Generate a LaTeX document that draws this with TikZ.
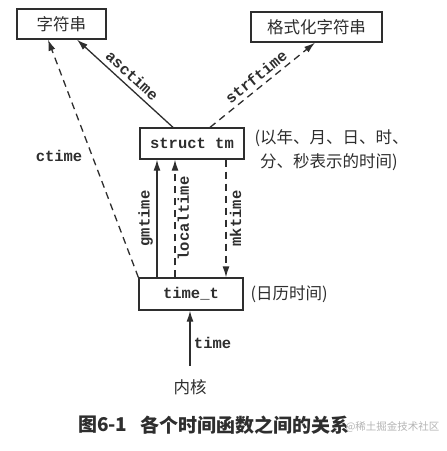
\documentclass[tikz,border=0pt]{standalone}
\usepackage{fontspec}
\setmonofont{Liberation Mono}
\newfontfamily\cjk{Noto Sans CJK SC}
\usetikzlibrary{arrows.meta}
\definecolor{ink}{HTML}{2E2E2E}
\definecolor{wm}{HTML}{B5B5B5}
\begin{document}
\begin{tikzpicture}[x=1pt,y=-1pt,
  box/.style={draw=ink, line width=1.3pt, inner sep=0pt},
  cn/.style={font=\cjk\fontsize{16.5}{20}\selectfont, text=ink},
  code/.style={font=\ttfamily\bfseries\fontsize{15.5}{18}\selectfont, text=ink},
  conn/.style={draw=ink, line width=1.3pt, -{Latex[length=11pt,width=7pt]}},
  dashconn/.style={conn, dash pattern=on 7pt off 5pt},
]
\useasboundingbox (0,0) rectangle (447,451);
\fill[white] (0,0) rectangle (447,451);

\node[box,cn,minimum width=89pt,minimum height=30pt] (s1) at (61.5,24) {字符串};
\node[box,cn,minimum width=131pt,minimum height=30pt] (s2) at (316.5,27) {格式化字符串};
\node[box,code,minimum width=104pt,minimum height=31pt] (tm) at (192,143.5) {struct tm};
\node[box,code,minimum width=104pt,minimum height=32pt] (tt) at (191,294) {time\_t};
\node[cn] (k) at (190,387) {内核};
\node[cn,anchor=west] (n1) at (251,138) {(以年、月、日、时、};
\node[cn,anchor=west] (n2) at (256.5,162) {分、秒表示的时间)};
\node[cn,anchor=west] (n3) at (247,294) {(日历时间)};

% asctime
\draw[conn] ([xshift=-19pt]tm.north) -- node[code,sloped,anchor=south,inner sep=4.5pt]{asctime} ([xshift=15.5pt]s1.south);
% strftime
\draw[dashconn] ([xshift=18pt]tm.north) -- node[code,sloped,anchor=south,inner sep=4pt]{strftime} ([xshift=-1.5pt]s2.south);
% ctime
\draw[dashconn] (tt.north west) -- node[code,pos=0.51,anchor=east,xshift=-6pt]{ctime} ([xshift=-13.5pt]s1.south);
% gmtime
\draw[conn] ([xshift=-34pt]tt.north) -- node[code,rotate=90,anchor=south]{gmtime} ([xshift=-34pt]tt.north |- tm.south);
% localtime
\draw[dashconn] ([xshift=-16pt]tt.north) -- node[code,rotate=90,anchor=north,inner sep=2pt]{localtime} ([xshift=-16pt]tt.north |- tm.south);
% mktime
\draw[dashconn] ([xshift=34pt]tm.south) -- node[code,rotate=90,anchor=north]{mktime} ([xshift=34pt]tm.south |- tt.north);
% time
\draw[conn, shorten <=10pt] (k.north) -- node[code,pos=0.51,anchor=west]{time} (k.north |- tt.south);

\node[font=\cjk\bfseries\fontsize{19}{22}\selectfont, text=ink, anchor=west] (cap1) at (74.5,425) {图6-1};
\node[font=\cjk\bfseries\fontsize{19}{22}\selectfont, text=ink, anchor=west] (cap2) at (136.5,425) {各个时间函数之间的关系};
\node[font=\cjk\fontsize{10.5}{12}\selectfont, text=wm, anchor=west] (wmk) at (342,426.5) {@稀土掘金技术社区};
\end{tikzpicture}
\end{document}
